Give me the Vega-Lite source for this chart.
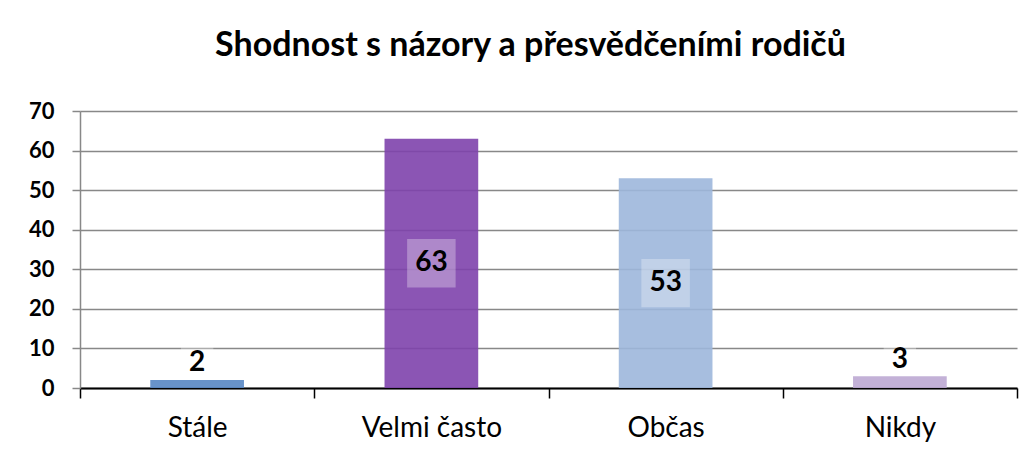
{
  "$schema": "https://vega.github.io/schema/vega-lite/v6.json",
  "width": 937,
  "height": 277,
  "autosize": {"type": "none"},
  "padding": {"left": 80, "top": 111, "right": 17, "bottom": 68},
  "background": "white",
  "title": {
    "text": "Shodnost s názory a přesvědčeními rodičů",
    "font": "Lato",
    "fontSize": 34,
    "fontWeight": "bold",
    "color": "#000000",
    "anchor": "middle",
    "dx": -18,
    "offset": 37
  },
  "data": {
    "values": [
      {"kategorie": "Stále", "pocet": 2},
      {"kategorie": "Velmi často", "pocet": 63},
      {"kategorie": "Občas", "pocet": 53},
      {"kategorie": "Nikdy", "pocet": 3}
    ]
  },
  "transform": [
    {"calculate": "datum.pocet >= 10 ? datum.pocet / 2 : datum.pocet + 4.2", "as": "labelY"}
  ],
  "config": {
    "view": {"stroke": null},
    "font": "Lato",
    "axisY": {
      "title": null,
      "labelOverlap": false,
      "labelFont": "Lato",
      "labelFontSize": 22,
      "labelFontWeight": "bold",
      "labelColor": "#000000",
      "labelPadding": 18,
      "tickSize": 8,
      "tickColor": "#888888",
      "tickWidth": 1.5,
      "domainColor": "#888888",
      "domainWidth": 1.5,
      "grid": true,
      "gridColor": "#888888",
      "gridWidth": 1.5
    }
  },
  "encoding": {
    "x": {
      "field": "kategorie",
      "type": "nominal",
      "sort": null,
      "scale": {"paddingInner": 0, "paddingOuter": 0},
      "axis": {
        "title": null,
        "labelAngle": 0,
        "labelFont": "Lato",
        "labelFontSize": 28,
        "labelColor": "#000000",
        "labelPadding": 16,
        "tickBand": "extent",
        "tickSize": 10,
        "tickColor": "#000000",
        "tickWidth": 1.5,
        "domainColor": "#000000",
        "domainWidth": 1.8,
        "grid": false
      }
    }
  },
  "layer": [
    {
      "mark": {"type": "bar", "width": {"band": 0.4}, "opacity": 0.9},
      "encoding": {
        "y": {
          "field": "pocet",
          "type": "quantitative",
          "title": null,
          "scale": {"domain": [0, 70]},
          "axis": {"values": [0, 10, 20, 30, 40, 50, 60, 70]}
        },
        "color": {
          "field": "kategorie",
          "type": "nominal",
          "sort": null,
          "scale": {
            "domain": ["Stále", "Velmi často", "Občas", "Nikdy"],
            "range": ["#5887C4", "#7E43AC", "#9DB7DB", "#BCA8D3"]
          },
          "legend": null
        }
      }
    },
    {
      "mark": {"type": "point", "shape": "square", "filled": true, "color": "white", "opacity": 0.3},
      "encoding": {
        "y": {"field": "labelY", "type": "quantitative", "title": null, "axis": {"values": [0, 10, 20, 30, 40, 50, 60, 70]}},
        "size": {"condition": {"test": "datum.pocet >= 10", "value": 2350}, "value": 1050}
      }
    },
    {
      "mark": {"type": "text", "font": "Lato", "fontSize": 28, "fontWeight": "bold", "color": "#000000", "baseline": "middle", "align": "center"},
      "encoding": {
        "y": {"field": "labelY", "type": "quantitative", "title": null, "axis": {"values": [0, 10, 20, 30, 40, 50, 60, 70]}},
        "text": {"field": "pocet", "type": "quantitative"}
      }
    }
  ]
}
